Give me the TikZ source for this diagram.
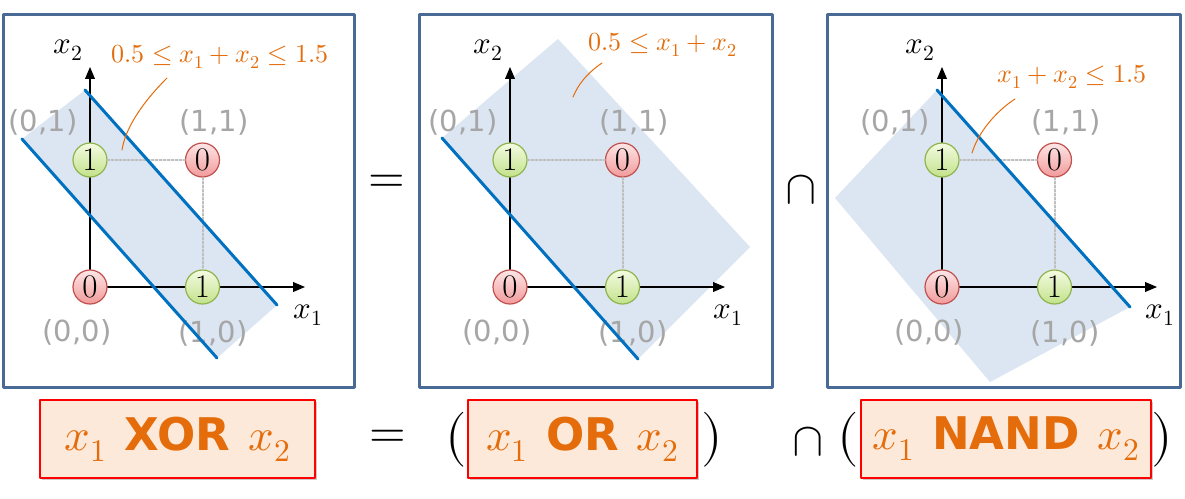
\documentclass[tikz,border=0pt]{standalone}
\usepackage{amsmath}
\usepackage{fontspec}
\usepackage{unicode-math}
\setmathfont{Latin Modern Math}
\newfontfamily\dejavu{DejaVu Sans}
\usepackage{tikz}
\usetikzlibrary{shapes,arrows}
\usetikzlibrary{shadows}

\definecolor{panelblue}{HTML}{4A6A96}
\definecolor{bandfill}{HTML}{DCE6F2}
\definecolor{lineblue}{HTML}{0070C0}
\definecolor{ineqorange}{HTML}{E46C0A}
\definecolor{labelgray}{HTML}{A6A6A6}
\definecolor{dotgray}{HTML}{BFBFBF}
\definecolor{greentop}{HTML}{F4FBE2}
\definecolor{greenbot}{HTML}{C2E28A}
\definecolor{greenedge}{HTML}{8FB44E}
\definecolor{redtop}{HTML}{FDE6E6}
\definecolor{redbot}{HTML}{F29A9A}
\definecolor{rededge}{HTML}{C0504D}
\definecolor{boxred}{HTML}{FF0000}
\definecolor{boxfill}{HTML}{FDE9D9}

\tikzset{
  panel/.style={draw=panelblue, line width=3pt, fill=white},
  band/.style={fill=bandfill},
  sepline/.style={draw=lineblue, line width=3pt},
  axis/.style={line width=1.8pt, black},
  griddot/.style={draw=dotgray, line width=2pt, dash pattern=on 2pt off 2pt},
  ptlabel/.style={text=labelgray, font=\dejavu\fontsize{29}{29}\selectfont},
  axlabel/.style={font=\fontsize{31}{31}\selectfont},
  onept/.style={circle, draw=greenedge, line width=1.2pt, top color=greentop,
    bottom color=greenbot, minimum size=34pt, inner sep=0pt,
    font=\fontsize{33}{33}\selectfont},
  zeropt/.style={circle, draw=rededge, line width=1.2pt, top color=redtop,
    bottom color=redbot, minimum size=34pt, inner sep=0pt,
    font=\fontsize{33}{33}\selectfont},
  ineq/.style={text=ineqorange, font=\fontsize{26}{26}\selectfont},
  callout/.style={draw=ineqorange, line width=1pt},
  bigsym/.style={font=\fontsize{47}{47}\selectfont},
  paren/.style={font=\fontsize{55}{55}\selectfont},
  logicbox/.style={draw=boxred, line width=2.5pt, fill=boxfill,
    drop shadow={shadow xshift=2pt, shadow yshift=-2pt, opacity=0.35, fill=black!60},
    minimum height=78pt, inner sep=0pt, text=ineqorange,
    font=\fontsize{45}{45}\selectfont},
}
\newcommand{\opname}[1]{{\dejavu\bfseries\fontsize{45}{48}\selectfont #1}}

\begin{document}
\begin{tikzpicture}[line cap=round,line join=round,>=triangle 45,x=1pt,y=-1pt]
	\useasboundingbox (0,0) rectangle (1185,498);
	% the three panels
	\draw[panel] (3,14) rectangle (354,387);
	\draw[panel] (419,14) rectangle (772,387);
	\draw[panel] (827,14) rectangle (1180,387);
	% regions
	\fill[band] (85,90) -- (277,305) -- (217,358) -- (22,139) -- cycle;
	\fill[band] (442,138) -- (558,39) -- (750,247) -- (638,359) -- cycle;
	\fill[band] (937,90) -- (1130,307) -- (990,382) -- (835,198) -- cycle;
	% axes and the four inputs
	\foreach \ox/\nm in {90/a,510/b,942/c}{
	\begin{scope}[shift={(\ox,287)}]
		\coordinate (\nm o) at (0,0);
		\coordinate (\nm x) at (215,0);
		\coordinate (\nm y) at (0,-220);
		\draw[axis,->] (\nm o) -- (\nm x);
		\draw[axis,->] (\nm o) -- (\nm y);
		\node[axlabel] (\nm lx) at (218,28) {$x_1$};
		\node[axlabel] (\nm ly) at (-22,-237) {$x_2$};
		\node[ptlabel] (\nm l00) at (-13,45) {(0,0)};
		\node[ptlabel] (\nm l10) at (123,46) {(1,0)};
		\node[ptlabel] (\nm l01) at (-47,-165) {(0,1)};
		\node[ptlabel] (\nm l11) at (124,-165) {(1,1)};
		\node[zeropt] (\nm p00) at (0,0) {0};
		\node[onept] (\nm p10) at (112.5,0) {1};
		\node[onept] (\nm p01) at (0,-127) {1};
		\node[zeropt] (\nm p11) at (112.5,-127) {0};
		\draw[griddot] (\nm p01) -- (\nm p11) -- (\nm p10);
	\end{scope}
	}
	% separating lines
	\draw[sepline] (85,90) -- (277,305);
	\draw[sepline] (22,139) -- (217,358);
	\draw[sepline] (442,138) -- (638,359);
	\draw[sepline] (937,90) -- (1130,307);
	% inequalities
	\node[ineq] (lbla) at (220,57) {$0.5 \le x_1 + x_2 \le 1.5$};
	\node[ineq] (lblb) at (663,45) {$0.5 \le x_1 + x_2$};
	\node[ineq] (lblc) at (1072,77) {$x_1 + x_2 \le 1.5$};
	\coordinate (tipa) at (122,150);
	\coordinate (tipb) at (573,97);
	\coordinate (tipc) at (972,153);
	\draw[callout] (167,78) .. controls (140,105) and (125,130) .. (tipa);
	\draw[callout] (602,63) .. controls (586,74) and (578,85) .. (tipb);
	\draw[callout] (1015,99) .. controls (995,112) and (978,133) .. (tipc);
	\node[bigsym] (eqtop) at (387,184) {$=$};
	\node[bigsym] (captop) at (801,190) {$\cap$};
	% logic row
	\node[logicbox, minimum width=275pt] (xorbox) at (177.5,439)
		{$x_1$\hspace{18pt}\opname{XOR}\hspace{18pt}$x_2$};
	\node[bigsym] (eqbot) at (388,439) {$=$};
	\node[paren] (lpa) at (456,440) {$($};
	\node[logicbox, minimum width=229pt] (orbox) at (582.5,439)
		{$x_1$\hspace{18pt}\opname{OR}\hspace{18pt}$x_2$};
	\node[paren] (rpa) at (712,440) {$)$};
	\node[bigsym] (capbot) at (808,442) {$\cap$};
	\node[paren] (lpb) at (848,440) {$($};
	\node[logicbox, minimum width=290pt] (nandbox) at (1006,439)
		{$x_1$\hspace{18pt}\opname{NAND}\hspace{18pt}$x_2$};
	\node[paren] (rpb) at (1162,440) {$)$};
\end{tikzpicture}
\end{document}
